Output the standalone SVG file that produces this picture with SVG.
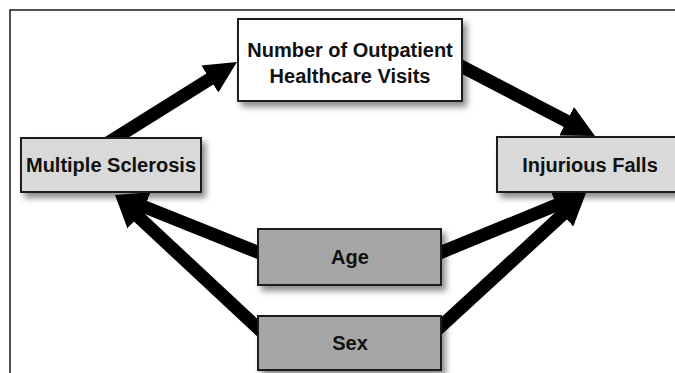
<svg xmlns="http://www.w3.org/2000/svg" width="675" height="373" viewBox="0 0 675 373">
  <style>
    .box { stroke: #1a1a1a; stroke-width: 2; filter: url(#shadow); }
    .white { fill: #ffffff; }
    .light { fill: #d9d9d9; }
    .dark { fill: #a6a6a6; }
    .lbl { font-family: "Liberation Sans", Arial, sans-serif; font-weight: bold; font-size: 20px; fill: #111111; text-anchor: middle; }
    .conn { stroke: #000000; stroke-width: 13; fill: none; marker-end: url(#head); }
    .frame { stroke: #1a1a1a; stroke-width: 1.5; fill: none; }
  </style>
  <defs>
    <filter id="shadow" x="-10%" y="-20%" width="130%" height="150%">
      <feDropShadow dx="4" dy="5" stdDeviation="3" flood-color="#000000" flood-opacity="0.45"/>
    </filter>
    <marker id="head" markerUnits="userSpaceOnUse" viewBox="0 0 32 32" refX="10" refY="16" markerWidth="32" markerHeight="32" orient="auto">
      <path d="M0,0 L32,16 L0,32 z" fill="#000000"/>
    </marker>
  </defs>
  <rect width="675" height="373" fill="#ffffff"/>
  <path class="frame" d="M10,373 L10,10 L675,10"/>
  <g id="connectors">
    <line class="conn" x1="106" y1="144" x2="218.3" y2="73.7"/>
    <line class="conn" x1="455" y1="63" x2="575.5" y2="125.8"/>
    <line class="conn" x1="262" y1="254" x2="135.4" y2="203.2"/>
    <line class="conn" x1="262" y1="332" x2="131.1" y2="210"/>
    <line class="conn" x1="437" y1="254" x2="565.6" y2="201.3"/>
    <line class="conn" x1="437" y1="330" x2="569.8" y2="207.9"/>
  </g>
  <g id="node-visits">
    <rect class="box white" x="238" y="19" width="224" height="82"/>
    <text class="lbl" x="350" y="57">Number of Outpatient</text>
    <text class="lbl" x="350" y="83">Healthcare Visits</text>
  </g>
  <g id="node-ms">
    <rect class="box light" x="21" y="138" width="180" height="54"/>
    <text class="lbl" x="111" y="172">Multiple Sclerosis</text>
  </g>
  <g id="node-falls">
    <rect class="box light" x="497" y="137" width="186" height="55"/>
    <text class="lbl" x="590" y="172">Injurious Falls</text>
  </g>
  <g id="node-age">
    <rect class="box dark" x="258" y="229" width="183" height="56"/>
    <text class="lbl" x="350" y="264">Age</text>
  </g>
  <g id="node-sex">
    <rect class="box dark" x="258" y="316" width="183" height="54"/>
    <text class="lbl" x="350" y="350">Sex</text>
  </g>
</svg>
